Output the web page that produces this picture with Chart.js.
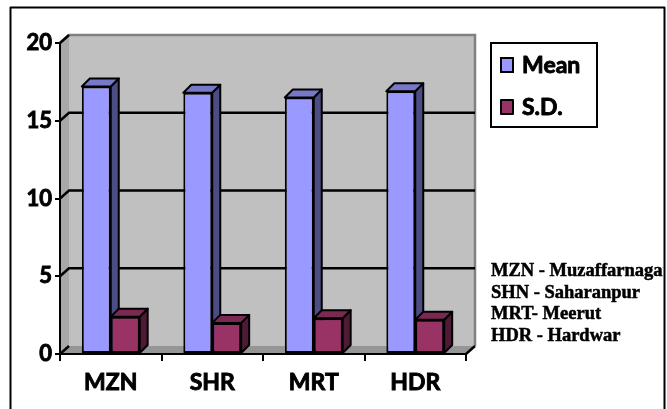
<!DOCTYPE html>
<html>
<head>
<meta charset="utf-8">
<script src="https://cdn.jsdelivr.net/npm/chart.js@4/dist/chart.umd.min.js"></script>
<style>
  html, body { margin: 0; padding: 0; background: #fff; }
  #wrap { width: 667px; height: 409px; }
</style>
</head>
<body>
<div id="wrap"><canvas id="c" width="667" height="409"></canvas></div>
<script>
// District scores
const districts = ['MZN', 'SHR', 'MRT', 'HDR'];
const meanValues = [17.2, 16.8, 16.5, 16.9];
const sdValues = [2.4, 2.0, 2.3, 2.2];
const seriesNames = ['Mean', 'S.D.'];
const yTicks = [0, 5, 10, 15, 20];
const districtNotes = ['MZN - Muzaffarnagar', 'SHN - Saharanpur', 'MRT- Meerut', 'HDR - Hardwar'];

// depth offsets for the pseudo-3D look
const BX = 8, BY = -8;   // bar depth
const WX = 9, WY = -8;   // wall depth

const LABEL_FONT = 'Lato';
const LABEL_WEIGHT = 'bold';
const HEAVY = 0.9; // extra outline to thicken the label strokes

const faceColors = [
  { front: '#9999FF', top: '#7878C8', side: '#4D4D85' },
  { front: '#993366', top: '#7A2952', side: '#4F1A35' }
];

function poly(ctx, pts, fill, stroke) {
  ctx.beginPath();
  ctx.moveTo(pts[0][0], pts[0][1]);
  for (let i = 1; i < pts.length; i++) ctx.lineTo(pts[i][0], pts[i][1]);
  ctx.closePath();
  if (fill) { ctx.fillStyle = fill; ctx.fill(); }
  if (stroke) ctx.stroke();
}

function barFaces(ctx, bar, c) {
  const p = bar.getProps(['x', 'y', 'base', 'width'], true);
  const l = p.x - p.width / 2, r = p.x + p.width / 2;
  ctx.lineWidth = 2;
  ctx.strokeStyle = '#000';
  ctx.lineJoin = 'round';
  poly(ctx, [[r, p.y], [r + BX, p.y + BY], [r + BX, p.base + BY], [r, p.base]], c.side, true);
  poly(ctx, [[l, p.y], [l + BX, p.y + BY], [r + BX, p.y + BY], [r, p.y]], c.top, true);
}

function heavyText(ctx, text, x, y, w) {
  ctx.lineJoin = 'round';
  ctx.lineWidth = w;
  ctx.strokeStyle = '#000';
  ctx.strokeText(text, x, y);
  ctx.fillText(text, x, y);
}

const scene = {
  id: 'scene',
  beforeDraw(chart) {
    const ctx = chart.ctx, a = chart.chartArea, ys = chart.scales.y;
    const L = a.left, R = a.right, T = a.top, B = a.bottom;
    ctx.save();
    ctx.fillStyle = '#fff';
    ctx.fillRect(0, 0, chart.width, chart.height);
    // back wall
    ctx.fillStyle = '#C0C0C0';
    ctx.fillRect(L + WX, T + WY, R - L, B - T);
    // side wall and floor
    poly(ctx, [[L, T], [L + WX, T + WY], [L + WX, B + WY], [L, B]], '#A8A8A8');
    poly(ctx, [[L, B], [L + WX, B + WY], [R + WX, B + WY], [R, B]], '#959595');
    // wall outline
    ctx.strokeStyle = '#808080';
    ctx.lineWidth = 2.5;
    ctx.beginPath();
    ctx.moveTo(L, T);
    ctx.lineTo(L + WX, T + WY);
    ctx.lineTo(R + WX, T + WY);
    ctx.lineTo(R + WX, B + WY);
    ctx.stroke();
    // gridlines running across the side and back walls
    ctx.strokeStyle = '#000';
    ctx.lineWidth = 2.5;
    yTicks.forEach(v => {
      const py = ys.getPixelForValue(v);
      ctx.beginPath();
      ctx.moveTo(L, py);
      ctx.lineTo(L + WX, py + WY);
      if (v !== 0 && v !== yTicks[yTicks.length - 1]) ctx.lineTo(R + WX, py + WY);
      ctx.stroke();
    });
    ctx.beginPath();
    ctx.moveTo(R, B);
    ctx.lineTo(R + WX, B + WY);
    ctx.stroke();
    ctx.restore();
  },
  afterDatasetsDraw(chart) {
    const ctx = chart.ctx;
    const m0 = chart.getDatasetMeta(0), m1 = chart.getDatasetMeta(1);
    ctx.save();
    for (let i = 0; i < districts.length; i++) {
      barFaces(ctx, m0.data[i], faceColors[0]);
      m1.data[i].draw(ctx);
      barFaces(ctx, m1.data[i], faceColors[1]);
    }
    ctx.restore();
  },
  afterDraw(chart) {
    const ctx = chart.ctx;
    ctx.save();
    // legend
    ctx.strokeStyle = '#000';
    ctx.lineWidth = 2;
    ctx.strokeRect(491, 43, 106, 84);
    const rows = [65, 107];
    seriesNames.forEach((name, i) => {
      ctx.fillStyle = faceColors[i].front;
      ctx.lineWidth = 2;
      ctx.fillRect(501, rows[i] - 7, 12, 14);
      ctx.strokeRect(501, rows[i] - 7, 12, 14);
      ctx.fillStyle = '#000';
      ctx.font = LABEL_WEIGHT + ' 23px ' + LABEL_FONT;
      ctx.textBaseline = 'middle';
      ctx.textAlign = 'left';
      heavyText(ctx, name, 522, rows[i] + 1, HEAVY);
    });
    // district key
    ctx.save();
    ctx.beginPath();
    ctx.rect(0, 0, 663, chart.height);
    ctx.clip();
    ctx.font = 'bold 18.5px "Liberation Serif"';
    ctx.textBaseline = 'alphabetic';
    ctx.fillStyle = '#000';
    districtNotes.forEach((t, i) => heavyText(ctx, t, 491, 276 + i * 21.5, 0.5));
    ctx.restore();
    // outer frame
    ctx.strokeStyle = '#000';
    ctx.lineWidth = 2;
    ctx.strokeRect(10.5, 7.5, 654, 410);
    ctx.restore();
  }
};

function build() {
  new Chart(document.getElementById('c'), {
    type: 'bar',
    data: {
      labels: districts,
      datasets: [
        { label: seriesNames[0], data: meanValues, backgroundColor: faceColors[0].front,
          borderColor: '#000', borderWidth: 2, borderSkipped: false },
        { label: seriesNames[1], data: sdValues, backgroundColor: faceColors[1].front,
          borderColor: '#000', borderWidth: 2, borderSkipped: false }
      ]
    },
    options: {
      responsive: false,
      animation: false,
      events: [],
      datasets: { bar: { categoryPercentage: 0.57, barPercentage: 1.0 } },
      layout: { padding: { left: 0, top: 43, right: 201, bottom: 0 } },
      plugins: { legend: { display: false }, tooltip: { enabled: false } },
      scales: {
        x: {
          offset: true,
          grid: { offset: true, drawOnChartArea: false, color: '#000', lineWidth: 2, tickLength: 7 },
          border: { color: '#000', width: 2 },
          ticks: { color: '#000', font: { family: LABEL_FONT, weight: LABEL_WEIGHT, size: 23 }, padding: 8,
                   textStrokeColor: '#000', textStrokeWidth: HEAVY },
          afterFit(s) { s.height = 55; }
        },
        y: {
          min: yTicks[0],
          max: yTicks[yTicks.length - 1],
          afterBuildTicks(s) { s.ticks = yTicks.map(v => ({ value: v })); },
          grid: { drawOnChartArea: false, color: '#000', lineWidth: 2, tickLength: 5 },
          border: { color: '#000', width: 2 },
          ticks: { color: '#000', font: { family: LABEL_FONT, weight: LABEL_WEIGHT, size: 22 }, padding: 3,
                   textStrokeColor: '#000', textStrokeWidth: HEAVY },
          afterFit(s) { s.width = 60; }
        }
      }
    },
    plugins: [scene]
  });
}

Promise.all([
  document.fonts.load(LABEL_WEIGHT + ' 23px ' + LABEL_FONT),
  document.fonts.load('bold 18px "Liberation Serif"')
]).then(build, build);
</script>
</body>
</html>
